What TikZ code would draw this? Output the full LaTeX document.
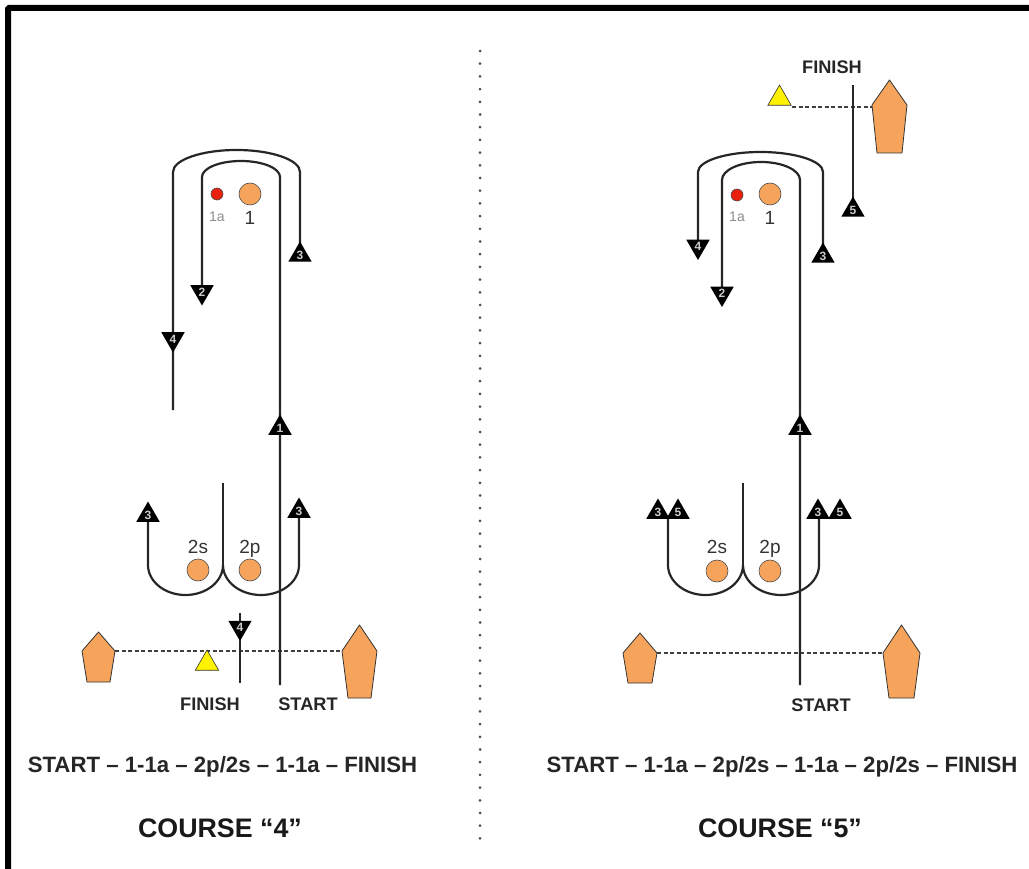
\documentclass[tikz,border=0pt]{standalone}
\usepackage{fontspec}
\setmainfont{Liberation Sans}
\usetikzlibrary{shapes.geometric}
\definecolor{kegelorange}{HTML}{F6A45B}
\definecolor{rot}{HTML}{E8200C}
\begin{document}
\begin{tikzpicture}[x=1pt,y=-1pt,
  bahn/.style={line width=2.2pt,color=black!85},
  pfeilauf/.style={regular polygon,regular polygon sides=3,minimum size=27pt,inner sep=0pt,fill=black,text=white!80!black,font=\fontsize{12}{12}\selectfont\bfseries},
  pfeilab/.style={pfeilauf,shape border rotate=180},
  boje/.style={circle,fill=kegelorange,draw=black!70,line width=0.6pt,minimum size=22pt,inner sep=0pt},
  rotboje/.style={circle,fill=rot,draw=black!70,line width=0.6pt,minimum size=12pt,inner sep=0pt},
  gelb/.style={regular polygon,regular polygon sides=3,minimum size=27pt,inner sep=0pt,fill=yellow,draw=black!80,line width=0.6pt},
  kegel/.style={fill=kegelorange,draw=black!80,line width=0.8pt,line join=round},
  gestrichelt/.style={line width=1.3pt,color=black!75,dash pattern=on 4pt off 2.5pt},
  punkte/.style={line width=3pt,line cap=round,color=black!70,dash pattern=on 0pt off 12.7pt},
  zahl/.style={anchor=base,font=\fontsize{19}{19}\selectfont,text=black!80},
  klein/.style={anchor=base,font=\fontsize{14}{14}\selectfont,text=black!45},
  schild/.style={anchor=base,font=\fontsize{18.2}{18}\selectfont\bfseries,text=black!85},
  ablauf/.style={anchor=base,font=\fontsize{22.2}{22}\selectfont\bfseries,text=black!85},
  titel/.style={anchor=base,font=\fontsize{26.8}{27}\selectfont\bfseries,text=black!90}]
  % Rahmen
  \useasboundingbox (0,0) rectangle (1029,869);
  \draw[line width=6pt,rounded corners=1pt] (8,869) -- (8,8) -- (1029,8);
  % Trennlinie
  \coordinate (tr1) at (480,51);
  \coordinate (tr2) at (480,845);
  \draw[punkte] (tr1) -- (tr2);

  % Kurs 4: Kegel, Ziellinie
  \coordinate (k4l) at (115,651);
  \coordinate (k4r) at (342,651);
  \draw[gestrichelt] (k4l) -- (k4r);
  \draw[kegel] (98.5,632) -- (k4l) -- (110,682) -- (87,682) -- (82,651) -- cycle;
  \draw[kegel] (359.5,625) -- (377,651) -- (371,698) -- (348,698) -- (k4r) -- cycle;
  \node[gelb] (g4) at (207,663.5) {};
  % Kurs 4: Bahn
  \coordinate (s4) at (280,685);
  \coordinate (e4) at (173,410);
  \coordinate (p42) at (202,292);
  \coordinate (p43) at (300,255);
  \coordinate (p44) at (173,339);
  \coordinate (p43l) at (148,515);
  \coordinate (p43r) at (299,511);
  \coordinate (m4) at (223,483);
  \coordinate (f4o) at (240,613);
  \coordinate (f4u) at (240,683);
  \draw[bahn] (s4) -- (280,177) arc[start angle=0,end angle=-180,x radius=39,y radius=16] -- (p42);
  \draw[bahn] (e4) -- (173,172) arc[start angle=180,end angle=360,x radius=63.5,y radius=22] -- (p43);
  \draw[bahn] (p43l) -- (148,565) arc[start angle=180,end angle=0,x radius=37.5,y radius=30]
    arc[start angle=180,end angle=0,x radius=38,y radius=30] -- (p43r);
  \draw[bahn] (m4) -- (223,565);
  \draw[bahn] (f4o) -- (f4u);
  % Kurs 4: Pfeile
  \node[pfeilauf] (t41) at (280,428) {1};
  \node[pfeilab] (t42) at (p42) {2};
  \node[pfeilauf] (t43) at (p43) {3};
  \node[pfeilab] (t44) at (p44) {4};
  \node[pfeilauf] (t43l) at (p43l) {3};
  \node[pfeilauf] (t43r) at (p43r) {3};
  \node[pfeilab] (t44z) at (240,627.5) {4};
  % Kurs 4: Bojen
  \node[rotboje] (b1a4) at (217,194) {};
  \node[boje] (b14) at (250,194) {};
  \node[boje] (b2s4) at (198,570) {};
  \node[boje] (b2p4) at (250,570) {};
  \node[klein] (l1a4) at (217,222) {1a};
  \node[zahl] (l14) at (250,225) {1};
  \node[zahl] (l2s4) at (198,553) {2s};
  \node[zahl] (l2p4) at (250,553) {2p};
  \node[schild] (fin4) at (210,710) {FINISH};
  \node[schild] (sta4) at (308,710) {START};
  \node[ablauf] (abl4) at (222.5,772) {START – 1-1a – 2p/2s – 1-1a – FINISH};
  \node[titel] (kurs4) at (220,837) {COURSE “4”};

  % Kurs 5: Kegel, Ziellinie
  \coordinate (k5l) at (657,653);
  \coordinate (k5r) at (883,653);
  \coordinate (k5z) at (872,107);
  \coordinate (g5r) at (792,107);
  \draw[gestrichelt] (k5l) -- (k5r);
  \draw[gestrichelt] (g5r) -- (k5z);
  \draw[kegel] (640,633) -- (k5l) -- (652,683) -- (628,683) -- (623,653) -- cycle;
  \draw[kegel] (901.5,625) -- (920,653) -- (914,698) -- (889,698) -- (k5r) -- cycle;
  \draw[kegel] (889.5,80) -- (907,105) -- (902,153) -- (877,153) -- (872,105) -- cycle;
  \node[gelb] (g5) at (779.5,98.5) {};
  % Kurs 5: Bahn
  \coordinate (s5) at (800,685);
  \coordinate (p52) at (722,293.5);
  \coordinate (p53) at (823,256);
  \coordinate (p54) at (698,246.5);
  \coordinate (p55) at (853,210);
  \coordinate (z5) at (853,85);
  \coordinate (u5l) at (668,519);
  \coordinate (p53r) at (819,512);
  \coordinate (m5) at (743,483);
  \draw[bahn] (s5) -- (800,180) arc[start angle=0,end angle=-180,x radius=39,y radius=18] -- (p52);
  \draw[bahn] (p54) -- (698,172) arc[start angle=180,end angle=360,x radius=62.5,y radius=20] -- (p53);
  \draw[bahn] (z5) -- (p55);
  \draw[bahn] (u5l) -- (668,565) arc[start angle=180,end angle=0,x radius=37.5,y radius=30]
    arc[start angle=180,end angle=0,x radius=38,y radius=30] -- (p53r);
  \draw[bahn] (m5) -- (743,565);
  % Kurs 5: Pfeile
  \node[pfeilauf] (t51) at (800,428) {1};
  \node[pfeilab] (t52) at (p52) {2};
  \node[pfeilauf] (t53) at (p53) {3};
  \node[pfeilab] (t54) at (p54) {4};
  \node[pfeilauf] (t55) at (p55) {5};
  \node[pfeilauf] (t53l) at (658,512) {3};
  \node[pfeilauf] (t55l) at (678,512) {5};
  \node[pfeilauf] (t53r) at (818,512) {3};
  \node[pfeilauf] (t55r) at (840,512) {5};
  % Kurs 5: Bojen
  \node[rotboje] (b1a5) at (737,195) {};
  \node[boje] (b15) at (770,194) {};
  \node[boje] (b2s5) at (717,571) {};
  \node[boje] (b2p5) at (770,571) {};
  \node[klein] (l1a5) at (737,222) {1a};
  \node[zahl] (l15) at (770,225) {1};
  \node[zahl] (l2s5) at (717,553) {2s};
  \node[zahl] (l2p5) at (770,553) {2p};
  \node[schild] (fin5) at (832,74) {FINISH};
  \node[schild] (sta5) at (821,711) {START};
  \node[ablauf] (abl5) at (782,772) {START – 1-1a – 2p/2s – 1-1a – 2p/2s – FINISH};
  \node[titel] (kurs5) at (780,837) {COURSE “5”};
\end{tikzpicture}
\end{document}
